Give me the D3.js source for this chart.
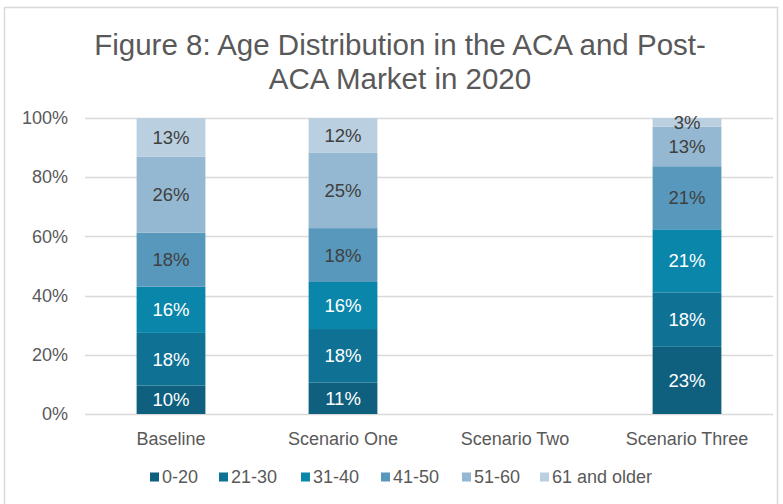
<!DOCTYPE html>
<html lang="en">
<head>
  <meta charset="UTF-8">
  <title>Figure 8</title>
  <script src="https://cdn.jsdelivr.net/npm/d3@7"></script>
  <style>
    body { margin: 0; background: #fff; }
    text { font-family: "Liberation Sans", Arial, sans-serif; }
  </style>
</head>
<body>
  <script>
    // data (labels are the rounded shares)
    const categories = ['Baseline', 'Scenario One', 'Scenario Two', 'Scenario Three'];
    const ageGroups = ['0-20', '21-30', '31-40', '41-50', '51-60', '61 and older'];
    const colors = ['#0f5f7e', '#0f7193', '#0b86ab', '#5898bc', '#94b8d1', '#bacfdf'];
    const labelColors = ['#fff', '#fff', '#fff', '#404040', '#404040', '#404040'];
    // one array per age group, in category order (Scenario Two has no data)
    const age0_20 = [9.6, 10.6, null, 22.7];
    const age21_30 = [17.8, 18.1, null, 18.4];
    const age31_40 = [15.6, 15.9, null, 21.3];
    const age41_50 = [18.3, 18.2, null, 21.3];
    const age51_60 = [25.6, 25.4, null, 13.4];
    const age61up = [13.1, 11.8, null, 2.9];
    const yTicks = [0, 20, 40, 60, 80, 100];

    const series = [age0_20, age21_30, age31_40, age41_50, age51_60, age61up];

    const W = 783, H = 504;
    const margin = {left: 85, right: 10, top: 118, bottom: 90};

    const svg = d3.select('body').append('svg')
      .attr('width', W).attr('height', H);

    // chart border
    svg.append('rect')
      .attr('x', 4.5).attr('y', 7.5).attr('width', 773).attr('height', 520)
      .attr('fill', 'none').attr('stroke', '#d9d9d9').attr('stroke-width', 1.5);

    // title
    const title = svg.append('text').attr('text-anchor', 'middle')
      .attr('fill', '#595959').attr('font-size', 29.5);
    title.append('tspan').attr('x', 400).attr('y', 55)
      .text('Figure 8: Age Distribution in the ACA and Post-');
    title.append('tspan').attr('x', 400).attr('y', 89)
      .text('ACA Market in 2020');

    const x = d3.scaleBand()
      .domain(categories)
      .range([margin.left, W - margin.right])
      .paddingInner(0.6).paddingOuter(0.3);

    const y = d3.scaleLinear()
      .domain([0, 100])
      .range([H - margin.bottom, margin.top])
      .clamp(true);

    // gridlines
    svg.append('g').selectAll('line').data(yTicks).join('line')
      .attr('x1', margin.left).attr('x2', W - margin.right)
      .attr('y1', d => Math.round(y(d)) + 0.5).attr('y2', d => Math.round(y(d)) + 0.5)
      .attr('stroke', '#d9d9d9').attr('stroke-width', 1.3);

    // y axis labels
    const yAxis = svg.append('g')
      .attr('transform', `translate(${margin.left},0)`)
      .call(d3.axisLeft(y).tickValues(yTicks).tickFormat(d => d + '%').tickSize(0).tickPadding(17));
    yAxis.select('.domain').remove();
    yAxis.selectAll('text').attr('fill', '#595959').attr('font-size', 18)
      .attr('font-family', '"Liberation Sans", Arial, sans-serif');

    // x axis labels
    const xAxis = svg.append('g')
      .attr('transform', `translate(0,${H - margin.bottom})`)
      .call(d3.axisBottom(x).tickSize(0).tickPadding(18));
    xAxis.select('.domain').remove();
    xAxis.selectAll('text').attr('fill', '#595959').attr('font-size', 18)
      .attr('font-family', '"Liberation Sans", Arial, sans-serif');

    // stack the values
    const rows = categories.map((c, i) => {
      const r = {cat: c};
      ageGroups.forEach((g, j) => { r[g] = series[j][i] || 0; });
      return r;
    });
    const stacked = d3.stack().keys(ageGroups)(rows);

    const layers = svg.append('g').selectAll('g').data(stacked).join('g')
      .attr('fill', (d, i) => colors[i]);

    layers.selectAll('rect').data(d => d.filter(s => s[1] - s[0] > 0)).join('rect')
      .attr('x', d => x(d.data.cat))
      .attr('width', x.bandwidth())
      .attr('y', d => y(d[1]))
      .attr('height', d => y(d[0]) - y(d[1]));

    layers.each(function(layer, i) {
      d3.select(this).selectAll('text').data(layer.filter(s => s[1] - s[0] > 0)).join('text')
        .attr('x', d => x(d.data.cat) + x.bandwidth() / 2)
        .attr('y', d => (y(d[0]) + y(d[1])) / 2)
        .attr('dy', '0.36em')
        .attr('text-anchor', 'middle')
        .attr('font-size', 18.5)
        .attr('fill', labelColors[i])
        .text(d => Math.round(d[1] - d[0]) + '%');
    });

    // legend
    const legendX = [150, 219, 301, 381, 462, 540];
    const legend = svg.append('g').selectAll('g').data(ageGroups).join('g')
      .attr('transform', (d, i) => `translate(${legendX[i]},477)`);
    legend.append('rect').attr('x', 0).attr('y', -4.5).attr('width', 9).attr('height', 9)
      .attr('fill', (d, i) => colors[i]);
    legend.append('text').attr('x', 12).attr('dy', '0.36em')
      .attr('font-size', 18).attr('fill', '#595959').text(d => d);
  </script>
</body>
</html>
